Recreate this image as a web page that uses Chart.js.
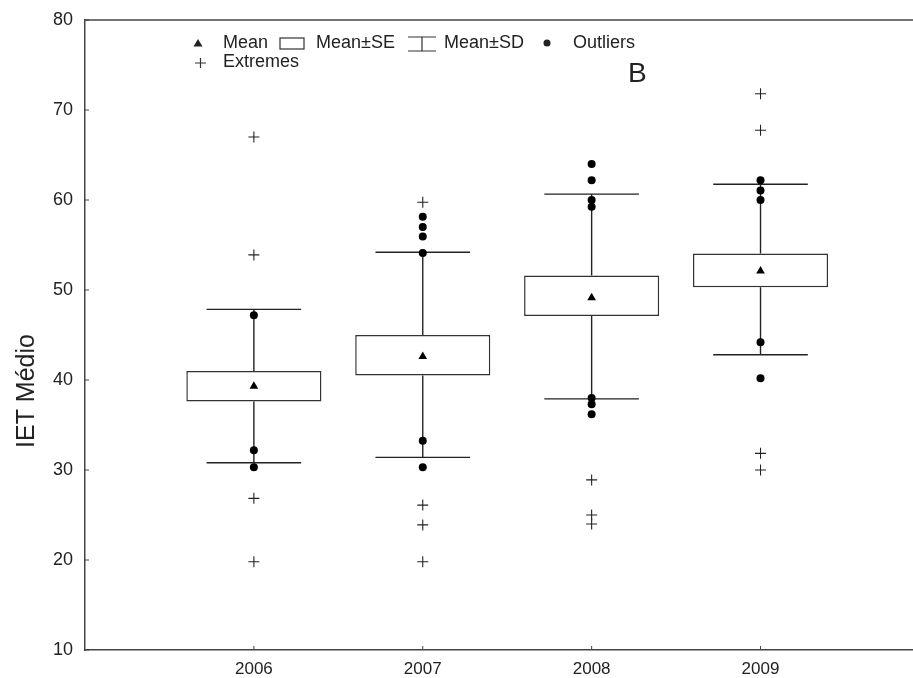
<!DOCTYPE html>
<html>
<head>
<meta charset="utf-8">
<script src="https://cdn.jsdelivr.net/npm/chart.js@4.4.1/dist/chart.umd.min.js"></script>
<style>
  html, body { margin: 0; padding: 0; background: #fff; overflow: hidden; }
  #wrap { width: 936px; height: 678px; }
</style>
</head>
<body>
<div id="wrap"><canvas id="chart"></canvas></div>
<script>
// values
var years = [2006, 2007, 2008, 2009];
var means = [39.3, 42.6, 49.15, 52.1];
var seLow = [37.6, 40.5, 47.1, 50.3];
var seHigh = [41.0, 45.0, 51.6, 54.05];
var sdLow = [30.8, 31.4, 37.9, 42.8];
var sdHigh = [47.85, 54.2, 60.65, 61.75];
var outliers = [
  [47.2, 32.2, 30.3],
  [58.15, 57.0, 55.95, 54.1, 33.25, 30.3],
  [64.0, 62.2, 60.0, 59.25, 38.0, 37.3, 36.2],
  [62.2, 61.05, 60.0, 44.2, 40.2]
];
var extremes = [
  [67.0, 53.9, 26.85, 19.8],
  [59.75, 26.1, 23.9, 19.8],
  [28.9, 25.0, 24.0],
  [71.8, 67.75, 31.85, 30.0]
];
var yTicks = [10, 20, 30, 40, 50, 60, 70, 80];

var capHalf = 0.28;
var ink = '#222';
var font = '"Liberation Sans", Arial, sans-serif';

var boxData = years.map(function (yr, i) { return { x: yr, y: [seLow[i], seHigh[i]] }; });
var meanData = years.map(function (yr, i) { return { x: yr, y: means[i] }; });

var whiskerData = [];
years.forEach(function (yr, i) {
  whiskerData.push({ x: yr, y: seHigh[i] }, { x: yr, y: sdHigh[i] }, { x: yr, y: null });
  whiskerData.push({ x: yr, y: seLow[i] }, { x: yr, y: sdLow[i] }, { x: yr, y: null });
  whiskerData.push({ x: yr - capHalf, y: sdHigh[i] }, { x: yr + capHalf, y: sdHigh[i] }, { x: yr, y: null });
  whiskerData.push({ x: yr - capHalf, y: sdLow[i] }, { x: yr + capHalf, y: sdLow[i] }, { x: yr, y: null });
});

var outData = [], extData = [];
years.forEach(function (yr, i) {
  outliers[i].forEach(function (v) { outData.push({ x: yr, y: v }); });
  extremes[i].forEach(function (v) { extData.push({ x: yr, y: v }); });
});

var decor = {
  id: 'decor',
  afterDraw: function (chart) {
    var ctx = chart.ctx, a = chart.chartArea;
    var xs = chart.scales.x, ys = chart.scales.y;
    ctx.save();
    // top frame line
    ctx.strokeStyle = '#444';
    ctx.lineWidth = 1.5;
    ctx.beginPath();
    ctx.moveTo(a.left, a.top);
    ctx.lineTo(a.right, a.top);
    ctx.stroke();
    // inward tick marks
    ctx.lineWidth = 1;
    ctx.beginPath();
    yTicks.forEach(function (v) {
      var py = ys.getPixelForValue(v);
      ctx.moveTo(a.left, py);
      ctx.lineTo(a.left + 4, py);
    });
    years.forEach(function (yr) {
      var px = xs.getPixelForValue(yr);
      ctx.moveTo(px, a.bottom);
      ctx.lineTo(px, a.bottom - 4);
    });
    ctx.stroke();

    // y axis title
    ctx.fillStyle = ink;
    ctx.font = '25px ' + font;
    ctx.textAlign = 'center';
    ctx.textBaseline = 'middle';
    ctx.save();
    ctx.translate(27, 391);
    ctx.rotate(-Math.PI / 2);
    ctx.fillText('IET Médio', 0, 0);
    ctx.restore();

    // panel letter
    ctx.font = '28px ' + font;
    ctx.textAlign = 'left';
    ctx.textBaseline = 'alphabetic';
    ctx.fillText('B', 628, 82);

    // legend
    ctx.font = '18px ' + font;
    ctx.textBaseline = 'middle';
    var ly = 43;
    ctx.beginPath();
    ctx.moveTo(198, ly - 4);
    ctx.lineTo(202.5, ly + 3.5);
    ctx.lineTo(193.5, ly + 3.5);
    ctx.closePath();
    ctx.fill();
    ctx.fillText('Mean', 223, ly);
    ctx.strokeStyle = '#333';
    ctx.lineWidth = 1.2;
    ctx.strokeRect(280, 38, 24, 11);
    ctx.fillText('Mean±SE', 316, ly);
    ctx.beginPath();
    ctx.moveTo(408, 37); ctx.lineTo(436, 37);
    ctx.moveTo(408, 51); ctx.lineTo(436, 51);
    ctx.moveTo(422, 37); ctx.lineTo(422, 51);
    ctx.stroke();
    ctx.fillText('Mean±SD', 444, ly);
    ctx.beginPath();
    ctx.arc(547, ly, 3.5, 0, Math.PI * 2);
    ctx.fill();
    ctx.fillText('Outliers', 573, ly);
    var ly2 = 62;
    ctx.beginPath();
    ctx.moveTo(195, ly2 + 1); ctx.lineTo(206, ly2 + 1);
    ctx.moveTo(200.5, ly2 - 4); ctx.lineTo(200.5, ly2 + 6);
    ctx.stroke();
    ctx.fillText('Extremes', 223, ly2);
    ctx.restore();
  }
};

new Chart(document.getElementById('chart'), {
  type: 'bar',
  data: {
    datasets: [
      {
        type: 'scatter', label: 'Mean', data: meanData, order: 1,
        pointStyle: 'triangle', pointRadius: 5, backgroundColor: '#000', borderColor: '#000', borderWidth: 0
      },
      {
        type: 'scatter', label: 'Outliers', data: outData, order: 1,
        pointStyle: 'circle', pointRadius: 4, backgroundColor: '#000', borderColor: '#000', borderWidth: 0
      },
      {
        type: 'scatter', label: 'Extremes', data: extData, order: 1,
        pointStyle: 'cross', pointRadius: 5.5, borderColor: '#222', borderWidth: 1.1
      },
      {
        type: 'bar', label: 'Mean±SE', data: boxData, order: 3,
        backgroundColor: '#fff', borderColor: '#333', borderWidth: 1.5, borderSkipped: false,
        categoryPercentage: 1.0, barPercentage: 0.8
      },
      {
        type: 'line', label: 'Mean±SD', data: whiskerData, order: 4,
        borderColor: '#222', borderWidth: 1.4, pointRadius: 0, spanGaps: false, fill: false, tension: 0
      }
    ]
  },
  options: {
    responsive: true,
    maintainAspectRatio: false,
    animation: false,
    events: [],
    layout: { padding: { top: 20, right: 0, left: 0, bottom: 0 } },
    plugins: { legend: { display: false }, tooltip: { enabled: false } },
    scales: {
      x: {
        type: 'linear', min: 2005, max: 2010, offset: false,
        afterBuildTicks: function (scale) { scale.ticks = years.map(function (v) { return { value: v }; }); },
        afterFit: function (scale) { scale.height = 28; scale.paddingLeft = 0; scale.paddingRight = 0; },
        grid: { display: false, drawTicks: false },
        border: { display: true, color: '#444', width: 1.5 },
        ticks: { padding: 9, color: ink, font: { family: font, size: 17 }, callback: function (v) { return String(v); } }
      },
      y: {
        min: 10, max: 80,
        afterBuildTicks: function (scale) { scale.ticks = yTicks.map(function (v) { return { value: v }; }); },
        afterFit: function (scale) { scale.width = 85; scale.paddingTop = 0; scale.paddingBottom = 0; },
        grid: { display: false, drawTicks: false },
        border: { display: true, color: '#444', width: 1.5 },
        ticks: { padding: 12, color: ink, font: { family: font, size: 18 } }
      }
    }
  },
  plugins: [decor]
});
</script>
</body>
</html>
